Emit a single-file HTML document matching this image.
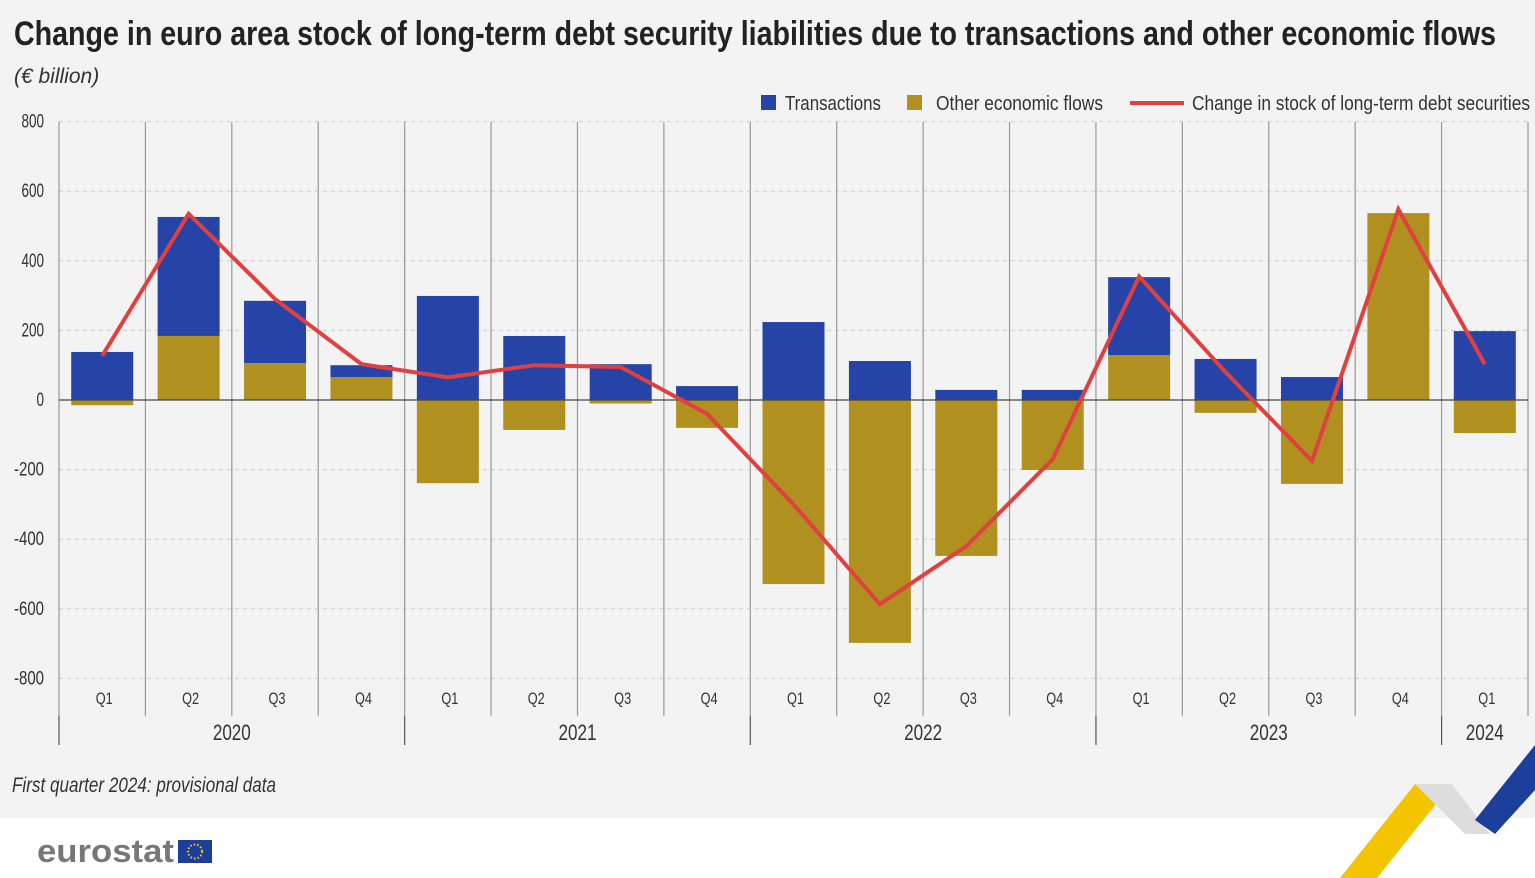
<!DOCTYPE html>
<html><head><meta charset="utf-8"><style>
body{margin:0;width:1535px;height:878px;overflow:hidden;background:#fff;font-family:"Liberation Sans Narrow","Liberation Sans",sans-serif}
#bg{position:absolute;left:0;top:0;width:1535px;height:818px;background:#f3f3f3}
svg{position:absolute;left:0;top:0}
</style></head><body>
<div id="bg"></div>
<svg id="c" width="1535" height="878">
<text x="14" y="45" font-size="34" font-weight="bold" fill="#222" textLength="1482" lengthAdjust="spacingAndGlyphs">Change in euro area stock of long-term debt security liabilities due to transactions and other economic flows</text>
<text x="14" y="83" font-size="21" font-style="italic" fill="#333">(€ billion)</text>
<g>
<rect x="761" y="95" width="15" height="15" fill="#2644a7"/>
<text x="785" y="110" font-size="20" fill="#333" textLength="96" lengthAdjust="spacingAndGlyphs">Transactions</text>
<rect x="907" y="95" width="15" height="15" fill="#b09120"/>
<text x="936" y="110" font-size="20" fill="#333" textLength="167" lengthAdjust="spacingAndGlyphs">Other economic flows</text>
<line x1="1130" y1="103" x2="1184" y2="103" stroke="#e04040" stroke-width="4"/>
<text x="1192" y="110" font-size="20" fill="#333" textLength="338" lengthAdjust="spacingAndGlyphs">Change in stock of long-term debt securities</text>
</g>
<g id="plot"></g>
<text x="12" y="792" font-size="21" font-style="italic" fill="#333" textLength="264" lengthAdjust="spacingAndGlyphs">First quarter 2024: provisional data</text>
<g>
<text x="37" y="862" font-size="32" font-weight="bold" fill="#777" font-family="Liberation Sans, sans-serif" textLength="137" lengthAdjust="spacingAndGlyphs">eurostat</text>
<rect x="178" y="840" width="34" height="23" fill="#1b3f9b"/>
<circle cx="195" cy="851.5" r="7" fill="none" stroke="#ffcc00" stroke-width="2" stroke-dasharray="1.5 2"/>
</g>
<g>
<polygon points="1340,878 1415,784 1452,784 1377,878" fill="#f5c400"/>
<polygon points="1415,784 1452,784 1490,834 1465,834" fill="#ddd"/>
<polygon points="1475,820 1535,745 1535,790 1495,834" fill="#1b3f9b"/>
</g>
</svg>
<script>
const categories=["Q1","Q2","Q3","Q4","Q1","Q2","Q3","Q4","Q1","Q2","Q3","Q4","Q1","Q2","Q3","Q4","Q1"];
const years=["2020","2021","2022","2023","2024"];
const yearSpans=[4,4,4,4,1];
const transactions=[138,342,179,34,299,184,103,40,224,112,29,29,224,118,66,0,198];
const otherFlows=[-15,184,106,66,-239,-86,-10,-80,-529,-698,-448,-201,129,-37,-241,537,-95];
const stockChange=[127,535,290,103,65,100,95,-40,-300,-587,-420,-170,355,80,-175,548,103];
const yTicks=[800,600,400,200,0,-200,-400,-600,-800];
const NS="http://www.w3.org/2000/svg";
const g=document.getElementById('plot');
const x0=59,x1=1528,step=(x1-x0)/categories.length,bw=62;
const y=v=>400-v*0.348;
const xc=i=>x0+step*(i+0.5);
function mk(t,a){const e=document.createElementNS(NS,t);for(const k in a)e.setAttribute(k,a[k]);g.appendChild(e);return e;}
yTicks.forEach(v=>{
 if(v!==0){const l=mk('line',{x1:x0,x2:x1,y1:y(v),y2:y(v),stroke:'#ccc','stroke-dasharray':'4 4'});
 
 }
 const t=mk('text',{x:44,y:y(v)+6,'font-size':19,fill:'#333','text-anchor':'end',textLength:String(v).length*7.5,lengthAdjust:'spacingAndGlyphs'});t.textContent=v;
 
 
});
for(let i=0;i<=categories.length;i++){
 const l=mk('line',{x1:x0+step*i,x2:x0+step*i,y1:122,y2:716,stroke:'#999','stroke-width':1.2});
 
 
}
categories.forEach((c,i)=>{
 const p=transactions[i],o=otherFlows[i];
 let pos=0,neg=0;
 [[o,'#b09120','bar-other-flows'],[p,'#2644a7','bar-transactions']].forEach(([v,col,n])=>{
  let top,bot;
  if(v>=0){bot=pos;top=pos+v;pos=top;}else{top=neg;bot=neg+v;neg=bot;}
  const r=mk('rect',{x:xc(i)-bw/2,y:y(top),width:bw,height:Math.max(0,y(bot)-y(top)),fill:col});
  
  
 });
 const t=mk('text',{x:xc(i)+2,y:704,'font-size':17,fill:'#333','text-anchor':'middle',textLength:17,lengthAdjust:'spacingAndGlyphs'});t.textContent=c;
 
 
});
const z=mk('line',{x1:x0,x2:x1,y1:y(0),y2:y(0),stroke:'#444','stroke-width':1.2});


let acc=0;
years.forEach((yr,k)=>{
 const s=x0+step*acc;acc+=yearSpans[k];const e=x0+step*acc;
 const l=mk('line',{x1:s,x2:s,y1:716,y2:745,stroke:'#555','stroke-width':1.2});
 
 
 const t=mk('text',{x:(s+e)/2,y:740,'font-size':22,fill:'#333','text-anchor':'middle',textLength:38,lengthAdjust:'spacingAndGlyphs'});t.textContent=yr;
 
 
});
const pl=mk('polyline',{points:stockChange.map((v,i)=>xc(i)+','+y(v)).join(' '),fill:'none',stroke:'#e04040','stroke-width':4,'stroke-linejoin':'miter'});


</script>
</body></html>
